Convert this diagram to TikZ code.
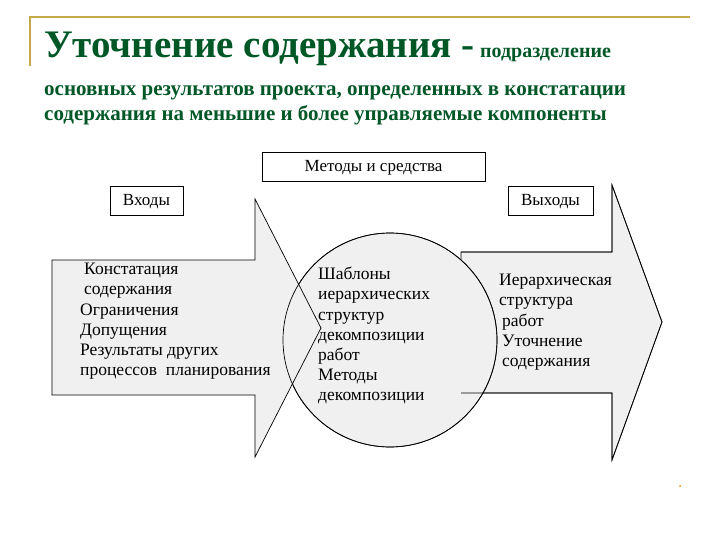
\documentclass[tikz,border=0pt]{standalone}
\usepackage{fontspec}
\setmainfont{Liberation Serif}
\begin{document}
\begin{tikzpicture}[x=1pt,y=-1pt,
  shp/.style={fill=black!6,draw=black,line width=0.7pt},
  box/.style={draw=black,line width=1pt,fill=white,inner sep=0pt},
  txt/.style={font=\fontsize{17.5}{20.2}\selectfont,align=left,anchor=north west,inner sep=0pt},
  ttl/.style={text=green!40!black!85!blue,anchor=base west,inner sep=0pt}]
\useasboundingbox (0,0) rectangle (720,540);
\definecolor{gold}{RGB}{196,170,70}
\draw[gold,line width=1.5pt] (30,66) -- (30,17) -- (690,17);
\node[ttl,font=\fontsize{39}{40}\selectfont\bfseries] (t1) at (44,58) {Уточнение содержания -};
\node[ttl,font=\fontsize{20}{22}\selectfont\bfseries,anchor=base west] (t1b) at (t1.base east) {\hspace{5pt}подразделение};
\node[ttl,font=\fontsize{21}{22}\selectfont\bfseries] (t2) at (44,96) {основных результатов проекта, определенных в констатации};
\node[ttl,font=\fontsize{21}{22}\selectfont\bfseries] (t3) at (44,121) {содержания на меньшие и более управляемые компоненты};
% shapes
\path[shp] (461,252) -- (612,252) -- (612,185) -- (662,322) -- (612,460) -- (612,393) -- (461,393) -- cycle;
\node[shp,circle,minimum size=214pt,inner sep=0pt] (c) at (390,340) {};
\path[shp] (52,260) -- (255,260) -- (255,199) -- (321,328) -- (255,457) -- (255,395) -- (52,395) -- cycle;
\draw[line width=0.7pt] (c) circle (107pt);
\draw[line width=0.7pt] (461,252) -- (612,252) -- (612,185) -- (662,322) -- (612,460) -- (612,393) -- (461,393);
\node[box,minimum width=223pt,minimum height=29pt,font=\fontsize{17}{18}\selectfont] (m) at (373.5,167.5) {Методы и средства};
\node[box,minimum width=73pt,minimum height=29pt,font=\fontsize{17}{18}\selectfont] (in) at (146.5,201.5) {Входы};
\node[box,minimum width=85pt,minimum height=29pt,font=\fontsize{17}{18}\selectfont] (out) at (550.5,201.5) {Выходы};
\node[txt] (lt) at (80,263) {\hspace{4pt}Констатация\\\hspace{4pt}содержания\\Ограничения\\Допущения\\Результаты других\\процессов\ \ планирования};
\node[txt] (ct) at (318,267) {Шаблоны\\иерархических\\структур\\декомпозиции\\работ\\Методы\\декомпозиции};
\node[txt] (rt) at (499,274) {Иерархическая\\структура\\\hspace{3pt}работ\\\hspace{3pt}Уточнение\\\hspace{3pt}содержания};
\fill[orange] (680,486) circle (1pt);
\end{tikzpicture}
\end{document}
